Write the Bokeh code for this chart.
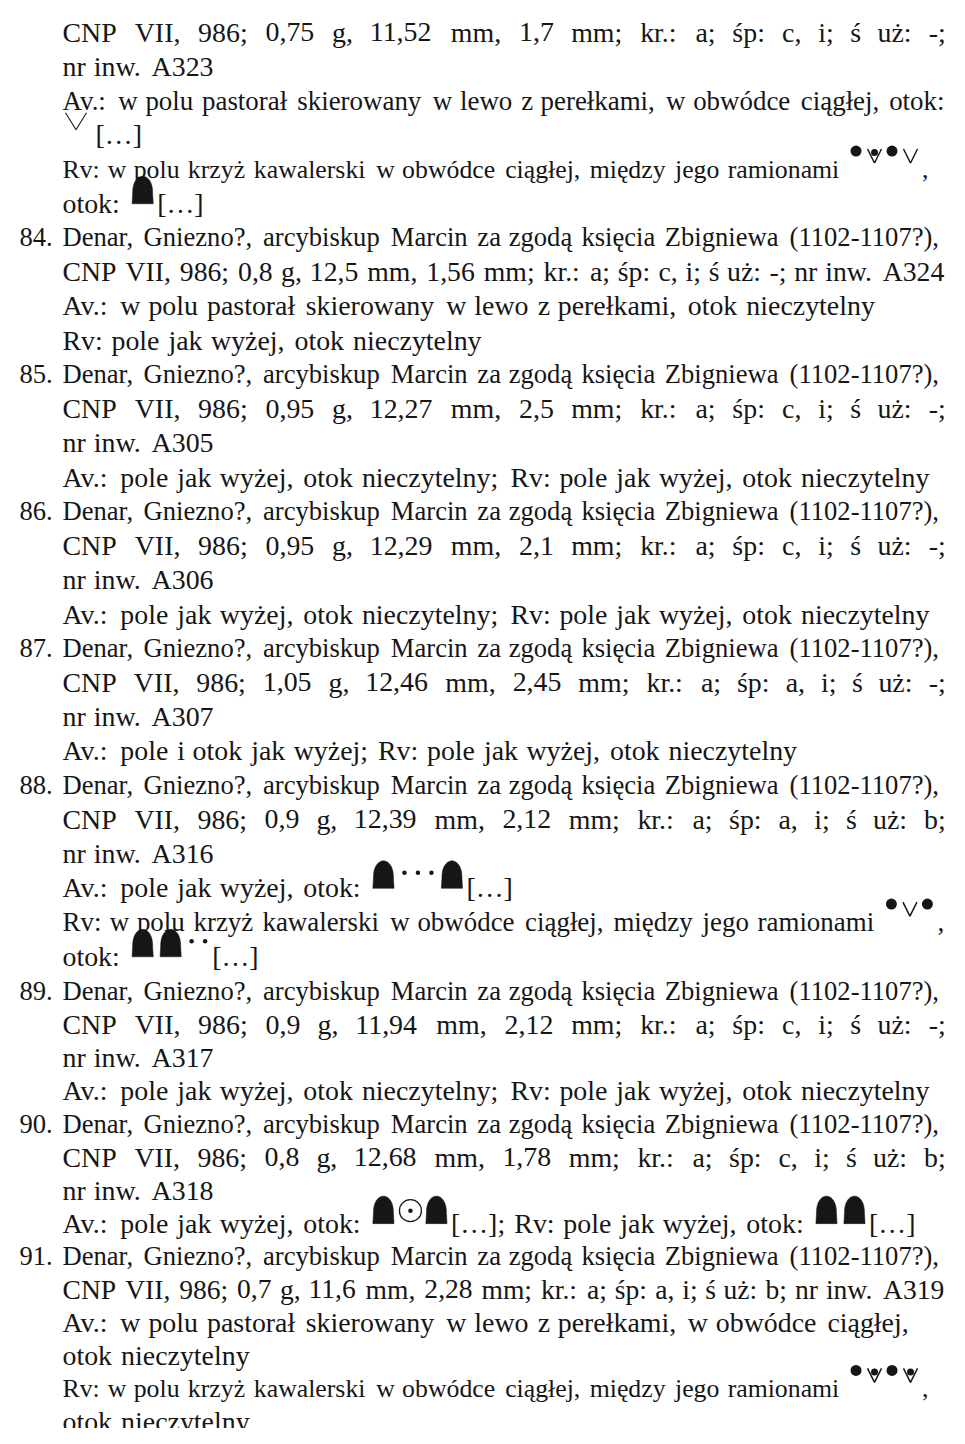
import re
import numpy as np
from bokeh.plotting import figure
from bokeh.models import Range1d, ColumnDataSource
from bokeh.embed import file_html
from bokeh.resources import INLINE
from bokeh.core.properties import value

# ---------------------------------------------------------------- data
title = "Denar, Gniezno?, arcybiskup Marcin za zgodą księcia Zbigniewa (1102-1107?),"
coin_no = ["84.", "85.", "86.", "87.", "88.", "89.", "90.", "91."]
weight = ["0,8", "0,95", "0,95", "1,05", "0,9", "0,9", "0,8", "0,7"]
diameter = ["12,5", "12,27", "12,29", "12,46", "12,39", "11,94", "12,68", "11,6"]
thickness = ["1,56", "2,5", "2,1", "2,45", "2,12", "2,12", "1,78", "2,28"]
sp_code = ["c", "c", "c", "a", "a", "c", "c", "a"]
wear = ["-", "-", "-", "-", "b", "-", "b", "b"]
inventory = ["A324", "A305", "A306", "A307", "A316", "A317", "A318", "A319"]
inv_same_line = [True, False, False, False, False, False, False, True]
descriptions = [
    ["Av.: w polu pastorał skierowany w lewo z perełkami, otok nieczytelny",
     "Rv: pole jak wyżej, otok nieczytelny"],
    ["Av.: pole jak wyżej, otok nieczytelny; Rv: pole jak wyżej, otok nieczytelny"],
    ["Av.: pole jak wyżej, otok nieczytelny; Rv: pole jak wyżej, otok nieczytelny"],
    ["Av.: pole i otok jak wyżej; Rv: pole jak wyżej, otok nieczytelny"],
    ["Av.: pole jak wyżej, otok: {D}{s}{s}{s}{D}[…]",
     "Rv: w polu krzyż kawalerski w obwódce ciągłej, między jego ramionami {B}{V}{B},",
     "otok: {D}{D}{s}{s}[…]"],
    ["Av.: pole jak wyżej, otok nieczytelny; Rv: pole jak wyżej, otok nieczytelny"],
    ["Av.: pole jak wyżej, otok: {D}{O}{D}[…]; Rv: pole jak wyżej, otok: {D}{D}[…]"],
    ["Av.: w polu pastorał skierowany w lewo z perełkami, w obwódce ciągłej,",
     "otok nieczytelny",
     "Rv: w polu krzyż kawalerski w obwódce ciągłej, między jego ramionami {B}{W}{B}{W},",
     "otok nieczytelny"],
]
# end of the entry continued from the previous page
carry_lines = [
    ("", "CNP VII, 986; 0,75 g, 11,52 mm, 1,7 mm; kr.: a; śp: c, i; ś uż: -;", True),
    ("", "nr inw. A323", False),
    ("", "Av.: w polu pastorał skierowany w lewo z perełkami, w obwódce ciągłej, otok:", True),
    ("", "{L}[…]", False),
    ("", "Rv: w polu krzyż kawalerski w obwódce ciągłej, między jego ramionami {B}{W}{B}{V},", False),
    ("", "otok: {D}[…]", False),
]

page_lines = list(carry_lines)
for k in range(len(coin_no)):
    page_lines.append((coin_no[k], title, True))
    cnp = (f"CNP VII, 986; {weight[k]} g, {diameter[k]} mm, {thickness[k]} mm; "
           f"kr.: a; śp: {sp_code[k]}, i; ś uż: {wear[k]};")
    if inv_same_line[k]:
        page_lines.append(("", cnp + f" nr inw. {inventory[k]}", True))
    else:
        page_lines.append(("", cnp, True))
        page_lines.append(("", f"nr inw. {inventory[k]}", False))
    for d in descriptions[k]:
        page_lines.append(("", d, False))

# ---------------------------------------------------------------- layout
WID = {" ": 250, ",": 250, ".": 250, ":": 278, ";": 278, "?": 444, "(": 333, ")": 333,
       "-": 333, "[": 333, "]": 333, "…": 1000}
WID.update({c: 500 for c in "0123456789"})
WID.update(dict(zip("ABCDEFGHIJKLMNOPQRSTUVWXYZ",
                    [722, 667, 667, 722, 611, 556, 722, 722, 333, 389, 722, 611, 889,
                     722, 722, 556, 722, 667, 556, 611, 722, 722, 944, 722, 722, 611])))
WID.update(dict(zip("abcdefghijklmnopqrstuvwxyz",
                    [444, 500, 444, 500, 444, 333, 500, 500, 278, 278, 500, 278, 778,
                     500, 500, 500, 500, 333, 389, 278, 500, 500, 722, 500, 500, 444])))
WID.update({"ą": 444, "ć": 444, "ę": 444, "ł": 278, "ń": 500, "ó": 500, "ś": 389,
            "ź": 444, "ż": 444})

SYM_ADV = {"D": 28.0, "s": 13.5, "B": 16.0, "V": 20.0, "W": 20.0, "O": 25.0, "L": 33.0}


def em(s):
    return sum(WID.get(ch, 500) for ch in s) / 1000.0


def split_word(w):
    return [p for p in re.split(r"(\{[A-Za-z]\})", w) if p]


PW, PH = 949, 1428
K0 = 28.9
LEFT, RIGHT, NUM_X = 62.0, 946.0, 19.0
TOP, LEAD = 31.6, 34.23
SPLIT, LAST_Y = 29, 1421.0
FRATIO = 0.965
scale_override = {4: 26.7, 26: 27.9, 40: 26.7}


def baseline(i):
    if i <= SPLIT:
        return TOP + i * LEAD
    y0 = TOP + SPLIT * LEAD
    n_rest = len(page_lines) - 1 - SPLIT
    return y0 + (i - SPLIT) * (LAST_Y - y0) / n_rest


tx, ty, tt, ts = [], [], [], []
dome_xs, dome_ys = [], []
dot_x, dot_y, dot_s = [], [], []
ring_x, ring_y = [], []
v_xs, v_ys = [], []
big_xs, big_ys = [], []


def dome(x0, yb, w=20.0, h=27.0):
    sh = 0.36 * h
    ry = h - sh
    th = np.linspace(np.pi, 0, 30)
    cx = x0 + w / 2
    xs = [x0 - 0.6] + list(cx + (w / 2) * np.cos(th)) + [x0 + w + 0.6]
    ys = [yb + 0.5] + list(yb - sh - ry * np.sin(th) ** 0.85) + [yb + 0.5]
    dome_xs.append(xs)
    dome_ys.append(ys)


def draw_sym(code, x, yb):
    if code == "D":
        dome(x + 3.5, yb)
    elif code == "s":
        dot_x.append(x + 6.5); dot_y.append(yb - 15); dot_s.append(4.5)
    elif code == "B":
        dot_x.append(x + 6.0); dot_y.append(yb - 18); dot_s.append(11)
    elif code in ("V", "W"):
        x0 = x + 1.5
        v_xs.append([x0, x0 + 7, x0 + 14]); v_ys.append([yb - 20, yb - 6, yb - 20])
        if code == "W":
            dot_x.append(x0 + 7); dot_y.append(yb - 16.5); dot_s.append(7)
    elif code == "O":
        ring_x.append(x + 12.5); ring_y.append(yb - 12.5)
        dot_x.append(x + 12.5); dot_y.append(yb - 12.5); dot_s.append(4.5)
    elif code == "L":
        x0 = x + 3.0
        big_xs.append([x0, x0 + 10.5, x0 + 21]); big_ys.append([yb - 22, yb - 5, yb - 22])


for i, (num, text, just) in enumerate(page_lines):
    yb = baseline(i)
    words = [split_word(w) for w in text.split(" ")]
    K = scale_override.get(i, K0)

    def widths(Kv):
        out = []
        for segs in words:
            wsum = 0.0
            for s in segs:
                if s.startswith("{"):
                    wsum += SYM_ADV[s[1]]
                else:
                    wsum += em(s) * Kv
            out.append(wsum)
        return out

    ww = widths(K)
    nsp = len(words) - 1
    space = 0.25 * K
    total = sum(ww) + nsp * space
    avail = RIGHT - LEFT
    if total > avail:
        K = K * avail / total
        ww = widths(K)
        space = 0.25 * K
    elif just and nsp > 0:
        space += (avail - total) / nsp
    F = K * FRATIO
    fs = f"{F:.2f}px"
    if num:
        tx.append(NUM_X); ty.append(yb); tt.append(num); ts.append(fs)
    x = LEFT
    for segs in words:
        for s in segs:
            if s.startswith("{"):
                draw_sym(s[1], x, yb)
                x += SYM_ADV[s[1]]
            else:
                tx.append(x); ty.append(yb); tt.append(s); ts.append(fs)
                x += em(s) * K
        x += space

# ---------------------------------------------------------------- figure
p = figure(width=PW, height=PH, x_range=Range1d(0, PW), y_range=Range1d(PH, 0),
           toolbar_location=None, output_backend="svg", min_border=0,
           x_axis_type=None, y_axis_type=None)
p.title.visible = False
p.grid.visible = False
p.outline_line_color = None
p.background_fill_color = "white"
p.border_fill_color = "white"

INK = "#161616"
src = ColumnDataSource(dict(x=tx, y=ty, text=tt, size=ts))
p.text(x="x", y="y", text="text", text_font_size="size", source=src,
       text_font=value("Liberation Serif"), text_baseline="alphabetic",
       text_align="left", text_color=INK)

if dome_xs:
    p.patches(dome_xs, dome_ys, fill_color=INK, line_color=INK, line_width=0.5)
if v_xs:
    p.multi_line(v_xs, v_ys, line_color=INK, line_width=1.5)
if big_xs:
    p.multi_line(big_xs, big_ys, line_color=INK, line_width=1.1)
if ring_x:
    p.scatter(ring_x, ring_y, marker="circle", size=22, fill_color="white",
              line_color=INK, line_width=1.3)
if dot_x:
    p.scatter(dot_x, dot_y, marker="circle", size=dot_s, fill_color=INK, line_color=None)

open("out.html", "w").write(file_html(p, INLINE))
